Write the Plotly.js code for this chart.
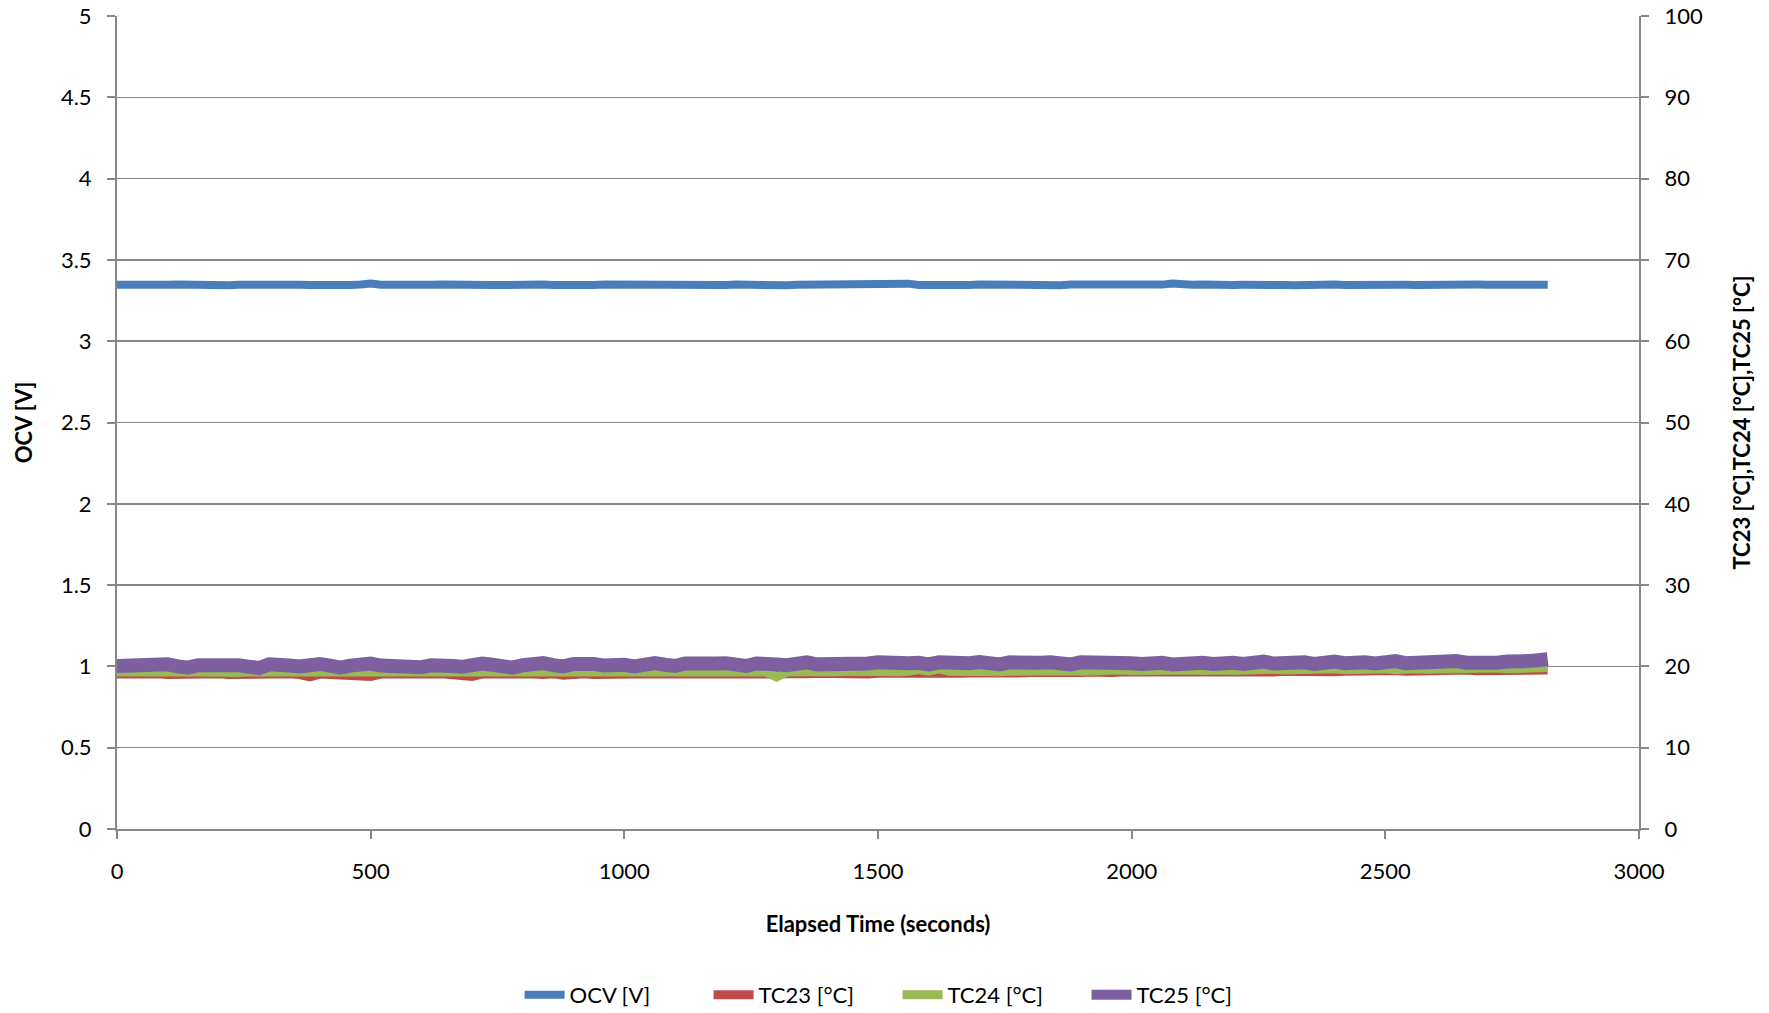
<!DOCTYPE html>
<html>
<head>
<meta charset="utf-8">
<script src="https://cdn.plot.ly/plotly-3.0.1.min.js"></script>
<style>html,body{margin:0;padding:0;background:#fff;}#chart{width:1769px;height:1013px;}</style>
</head>
<body>
<div id="chart"></div>
<script>
// Sampling: every 20 s starting at 0 s
const timeStart = 0;
const timeStep = 20;

const seriesNames = ["OCV [V]", "TC23 [°C]", "TC24 [°C]", "TC25 [°C]"];

const ocv = [
3.347,3.345,3.348,3.346,3.344,3.347,3.349,3.346,3.345,3.348,
3.346,3.344,3.347,3.349,3.345,3.346,3.348,3.345,3.347,3.346,
3.344,3.348,3.346,3.345,3.349,3.355,3.347,3.345,3.346,3.348,
3.345,3.347,3.349,3.346,3.344,3.347,3.348,3.345,3.346,3.349,
3.347,3.345,3.348,3.346,3.349,3.347,3.344,3.346,3.348,3.347,
3.345,3.349,3.347,3.346,3.343,3.347,3.349,3.346,3.345,3.348,
3.346,3.348,3.345,3.347,3.349,3.346,3.344,3.347,3.348,3.345,
3.347,3.349,3.346,3.345,3.348,3.347,3.345,3.349,3.354,3.346,
3.344,3.347,3.348,3.346,3.345,3.349,3.347,3.346,3.348,3.345,
3.347,3.349,3.346,3.344,3.348,3.347,3.345,3.349,3.346,3.348,
3.345,3.347,3.343,3.348,3.355,3.346,3.347,3.349,3.345,3.348,
3.346,3.347,3.349,3.345,3.348,3.346,3.344,3.347,3.349,3.346,
3.348,3.345,3.347,3.349,3.346,3.348,3.345,3.347,3.346,3.348,
3.347,3.345,3.349,3.346,3.348,3.347,3.345,3.348,3.346,3.347,
3.348,3.347
];

const tc23 = [
19.05,19.10,19.00,19.05,19.10,19.00,19.05,19.10,19.00,19.05,
19.10,19.00,19.05,19.10,19.05,18.95,19.05,19.10,19.00,18.70,
19.05,19.00,19.10,19.05,18.90,18.75,19.05,19.00,19.10,19.05,
19.00,19.05,19.10,18.95,19.00,18.75,19.05,19.10,19.00,19.05,
19.10,19.05,19.00,19.10,18.90,19.05,19.10,19.00,19.05,18.95,
19.10,19.05,19.00,19.10,19.05,19.00,18.95,19.10,19.05,19.10,
19.05,19.10,19.00,19.05,19.10,19.05,19.10,19.00,19.10,19.15,
19.10,19.05,19.15,19.10,19.05,19.15,19.10,19.20,19.15,19.10,
19.15,19.20,19.10,19.15,19.20,19.15,19.25,19.20,19.15,19.20,
19.25,19.20,19.15,19.25,19.20,19.25,19.30,19.20,19.25,19.30,
19.25,19.30,19.20,19.30,19.35,19.25,19.30,19.35,19.25,19.30,
19.35,19.30,19.40,19.35,19.30,19.40,19.35,19.30,19.40,19.45,
19.35,19.40,19.45,19.35,19.40,19.45,19.50,19.40,19.45,19.50,
19.40,19.50,19.45,19.55,19.45,19.50,19.55,19.45,19.50,19.55,
19.50,19.55
];

const tc24 = [
19.30,19.25,19.35,19.30,19.25,19.30,19.35,19.30,19.25,19.30,
19.35,19.30,19.25,19.30,19.35,19.30,19.30,19.25,19.35,19.30,
19.30,19.35,19.25,19.30,19.30,19.35,19.30,19.25,19.30,19.35,
19.30,19.30,19.25,19.35,19.30,19.30,19.35,19.30,19.25,19.30,
19.35,19.30,19.30,19.35,19.25,19.30,19.35,19.30,19.30,19.35,
19.30,19.25,19.35,19.30,19.30,19.35,19.30,19.30,19.35,19.30,
19.30,19.35,19.30,19.35,19.30,18.70,19.30,19.35,19.30,19.35,
19.30,19.35,19.40,19.35,19.30,19.35,19.40,19.35,19.40,19.60,
19.40,19.70,19.40,19.35,19.40,19.45,19.40,19.35,19.40,19.45,
19.40,19.45,19.40,19.50,19.45,19.40,19.50,19.45,19.50,19.55,
19.45,19.50,19.55,19.50,19.60,19.50,19.55,19.50,19.60,19.55,
19.50,19.60,19.55,19.60,19.65,19.55,19.60,19.70,19.60,19.65,
19.70,19.60,19.65,19.75,19.65,19.70,19.60,19.75,19.70,19.65,
19.70,19.75,19.65,19.80,19.70,19.75,19.80,19.70,19.75,19.80,
19.80,19.85
];

const tc25 = [
20.05,20.15,19.90,20.15,20.05,20.25,20.00,19.85,20.15,20.25,
20.05,20.30,20.15,19.95,19.80,20.25,20.35,20.10,20.00,20.25,
20.30,20.10,19.85,20.10,20.25,20.35,20.10,20.00,20.25,20.05,
19.90,20.15,20.30,20.05,19.95,20.25,20.35,20.20,20.05,19.85,
20.15,20.35,20.40,20.15,20.00,20.30,20.45,20.30,20.10,20.35,
20.20,20.00,20.35,20.40,20.20,20.05,20.35,20.25,20.10,20.35,
20.40,20.20,20.05,20.35,20.45,20.25,20.15,20.40,20.50,20.25,
20.20,20.45,20.35,20.15,20.35,20.50,20.40,20.20,20.40,20.45,
20.25,20.50,20.40,20.20,20.40,20.55,20.35,20.25,20.50,20.35,
20.20,20.45,20.50,20.30,20.25,20.50,20.55,20.35,20.25,20.50,
20.40,20.30,20.55,20.45,20.25,20.40,20.60,20.45,20.30,20.55,
20.45,20.30,20.55,20.60,20.35,20.45,20.65,20.50,20.30,20.55,
20.60,20.40,20.65,20.50,20.35,20.60,20.65,20.40,20.50,20.60,
20.40,20.60,20.65,20.45,20.35,20.55,20.45,20.60,20.50,20.65,
20.75,20.90
];

const xTicks = [0, 500, 1000, 1500, 2000, 2500, 3000];
const yTicks = [0, 0.5, 1, 1.5, 2, 2.5, 3, 3.5, 4, 4.5, 5];
const y2Ticks = [0, 10, 20, 30, 40, 50, 60, 70, 80, 90, 100];

const colors = ["#4a7ebb", "#be4b48", "#98b954", "#7d60a0"];
const widths = [8, 9, 9, 14];
const values = [ocv, tc23, tc24, tc25];
const axes = ["y", "y2", "y2", "y2"];

const traces = values.map((v, k) => ({
  type: "scatter",
  mode: "lines",
  name: seriesNames[k],
  x0: timeStart,
  dx: timeStep,
  y: v,
  yaxis: axes[k],
  line: {color: colors[k], width: widths[k]},
  hoverinfo: "x+y+name"
}));

const FONT = "Lato, 'Open Sans', sans-serif";
const gridC = "#878787";

const layout = {
  width: 1769, height: 1013,
  paper_bgcolor: "#fff", plot_bgcolor: "#fff",
  margin: {l: 117, r: 130, t: 16, b: 184, autoexpand: false},
  font: {family: FONT, size: 22, color: "#000"},
  showlegend: true,
  legend: {
    orientation: "h", x: 0.2645, xanchor: "left", y: -0.204, yanchor: "middle",
    font: {family: FONT, size: 22, color: "#000"},
    itemwidth: 40, traceorder: "normal", tracegroupgap: 0,
    entrywidth: 134, entrywidthmode: "pixels"
  },
  xaxis: {
    range: [0, 3000], tickvals: xTicks, ticktext: xTicks.map(String),
    showgrid: false, zeroline: false,
    showline: true, linecolor: gridC, linewidth: 2,
    ticks: "outside", ticklen: 8, tickwidth: 2, tickcolor: gridC,
    ticklabelstandoff: 14,
    automargin: false,
    title: {text: "<b>Elapsed Time (seconds)</b>", font: {family: FONT, size: 22}, standoff: 33}
  },
  yaxis: {
    range: [0, 5], tickvals: yTicks, ticktext: yTicks.map(String),
    showgrid: true, gridcolor: gridC, gridwidth: 1.5,
    zeroline: false,
    showline: true, linecolor: gridC, linewidth: 2,
    ticks: "outside", ticklen: 8, tickwidth: 2, tickcolor: gridC,
    ticklabelstandoff: 11,
    automargin: false,
    title: {text: "<b>OCV [V]</b>", font: {family: FONT, size: 22}, standoff: 22}
  },
  yaxis2: {
    range: [0, 100], tickvals: y2Ticks, ticktext: y2Ticks.map(String),
    overlaying: "y", side: "right",
    showgrid: false, zeroline: false,
    showline: true, linecolor: gridC, linewidth: 2,
    ticks: "outside", ticklen: 8, tickwidth: 2, tickcolor: gridC,
    ticklabelstandoff: 11,
    automargin: false,
    title: {text: "<b>TC23 [°C],TC24 [°C],TC25 [°C]</b>", font: {family: FONT, size: 22}, standoff: 33}
  }
};

Plotly.newPlot("chart", traces, layout, {displayModeBar: false, staticPlot: true});
</script>
</body>
</html>
